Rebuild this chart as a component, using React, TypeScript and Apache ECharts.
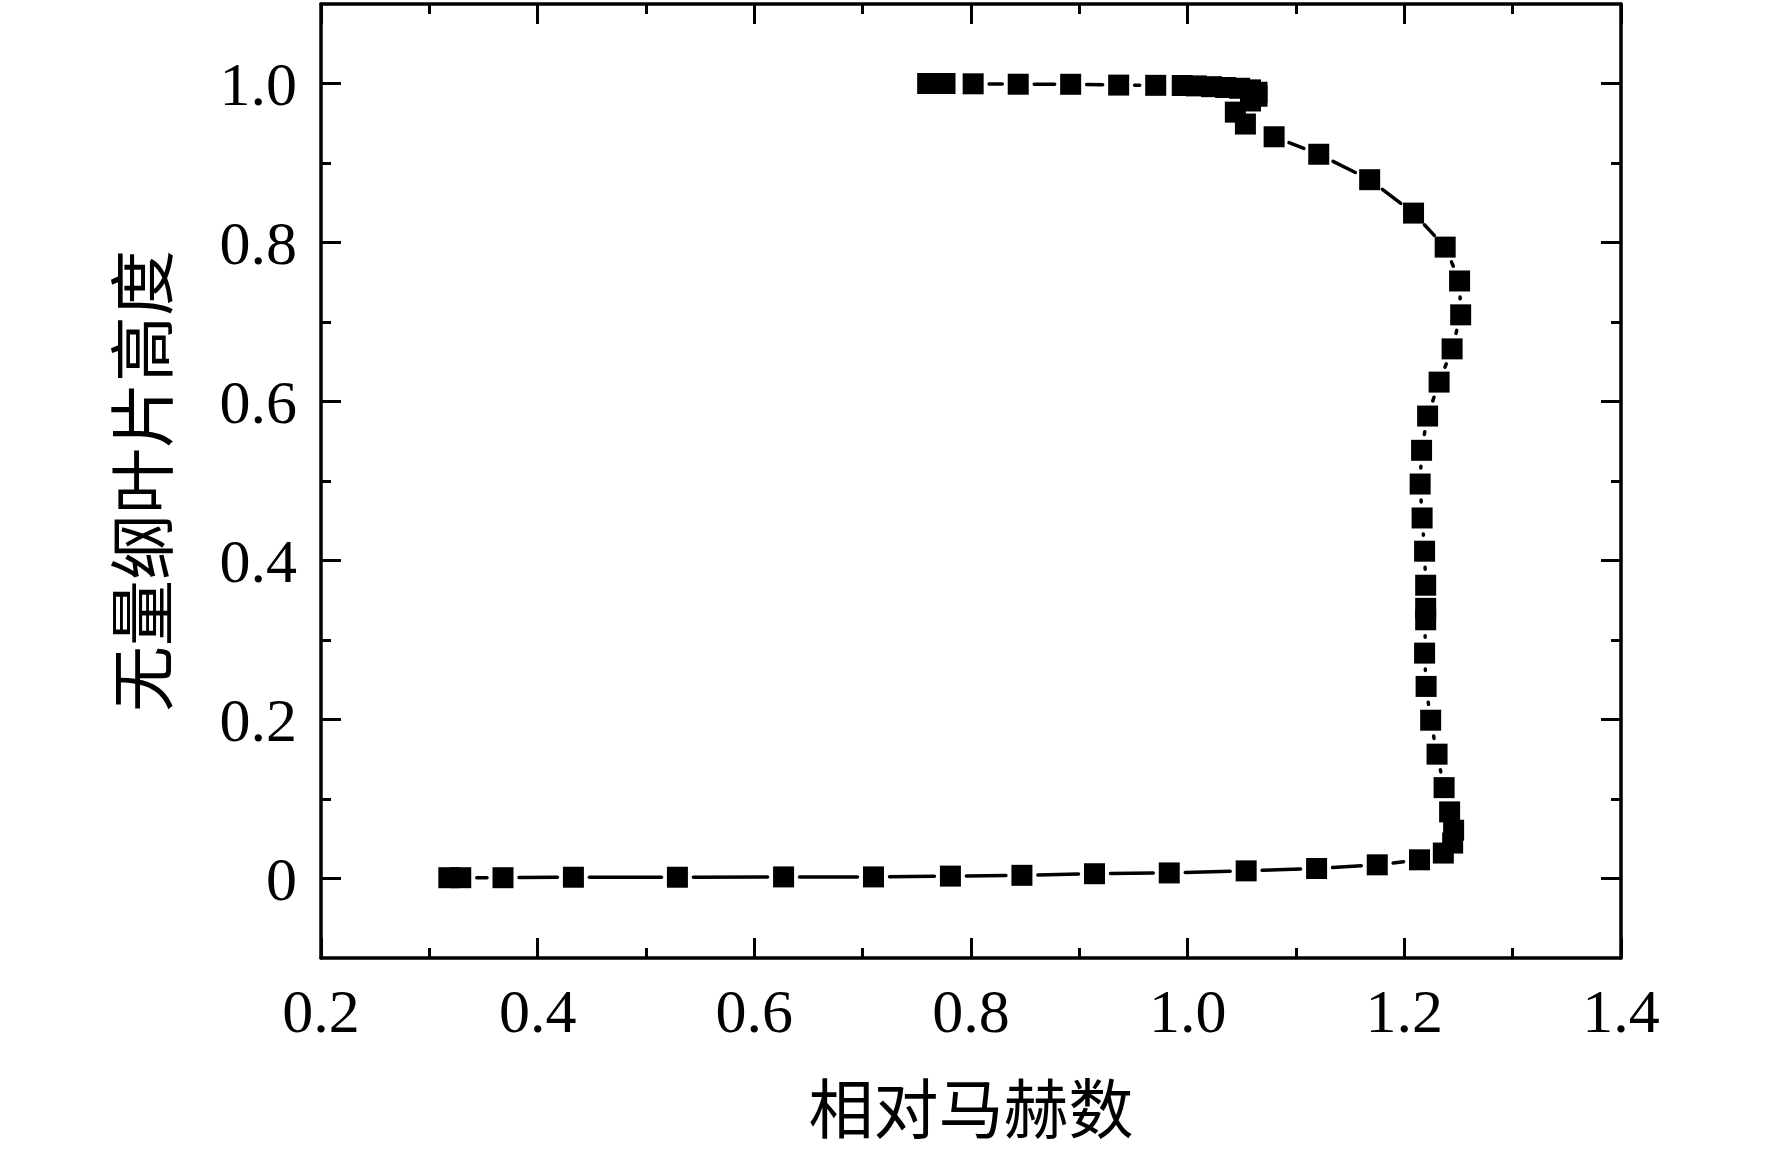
import React, { useEffect, useRef } from "react";
import * as echarts from "echarts";

// Relative Mach number (x) and dimensionless blade height (y), hub to tip
const machX = [
  0.318, 0.329, 0.368, 0.433, 0.529, 0.627, 0.71, 0.781, 0.847, 0.914, 0.983,
  1.054, 1.119, 1.175, 1.214, 1.236, 1.2446, 1.2455, 1.2418, 1.2367, 1.2302,
  1.2243, 1.2201, 1.2187, 1.2197, 1.2197, 1.2197, 1.2187, 1.2164, 1.2146,
  1.2159, 1.2215, 1.2321, 1.2441, 1.252, 1.251, 1.2377, 1.2085, 1.168, 1.121,
  1.0798, 1.0533, 1.044, 1.058, 1.064, 1.064, 1.058, 1.048, 1.035, 1.022,
  1.008, 0.995, 0.9705, 0.9363, 0.892, 0.8436, 0.802, 0.776, 0.76,
];
const heightY = [
  0.001, 0.001, 0.001, 0.0016, 0.0016, 0.002, 0.002, 0.003, 0.004, 0.006,
  0.007, 0.0096, 0.0126, 0.0172, 0.0235, 0.032, 0.0446, 0.0607, 0.0838,
  0.1143, 0.1564, 0.1991, 0.2416, 0.2835, 0.3254, 0.3398, 0.3689, 0.4117,
  0.4535, 0.4962, 0.5386, 0.5817, 0.6244, 0.6662, 0.709, 0.7516, 0.7942,
  0.837, 0.879, 0.911, 0.933, 0.949, 0.964, 0.978, 0.984, 0.989, 0.992,
  0.994, 0.995, 0.996, 0.997, 0.9975, 0.9977, 0.998, 0.999, 0.9991, 0.9996,
  1.0, 1.0,
];
const yMajorTicks = [0, 0.2, 0.4, 0.6, 0.8, 1.0];
const yMinorTicks = [0.1, 0.3, 0.5, 0.7, 0.9];
const xName = "相对马赫数";
const yName = "无量纲叶片高度";

export default function App() {
  const ref = useRef<HTMLDivElement>(null);
  useEffect(() => {
    if (!ref.current) return;
    const chart = echarts.init(ref.current, null, { renderer: "svg" });
    const points = machX.map((x, i) => [x, heightY[i]]);
    const segments = points
      .slice(0, -1)
      .map((p, i) => [p[0], p[1], points[i + 1][0], points[i + 1][1]]);
    const serif = "'Liberation Serif', 'Times New Roman', serif";
    const cjk = "'Noto Sans CJK SC', sans-serif";
    const black = "#000";
    const lineW = 3.5;
    const tickW = 3;
    const xCommon = {
      type: "value",
      min: 0.2,
      max: 1.4,
      interval: 0.2,
      splitLine: { show: false },
      axisLine: { show: true, onZero: false, lineStyle: { color: black, width: lineW } },
      axisTick: { show: true, inside: true, length: 20, lineStyle: { color: black, width: tickW } },
      minorTick: { show: true, splitNumber: 2, length: 10, lineStyle: { color: black, width: tickW } },
    };
    const yCommon = {
      type: "value",
      min: -0.1,
      max: 1.1,
      splitLine: { show: false },
    };
    chart.setOption({
      animation: false,
      backgroundColor: "#fff",
      grid: { left: 321, right: 151, top: 4, bottom: 199, outerBoundsMode: "none", containLabel: false },
      xAxis: [
        {
          ...xCommon,
          position: "bottom",
          axisLabel: {
            show: true,
            color: black,
            fontFamily: serif,
            fontSize: 62,
            margin: 22,
            formatter: (v: number) => v.toFixed(1),
          },
          name: xName,
          nameLocation: "middle",
          nameGap: 114,
          nameTextStyle: { color: black, fontFamily: cjk, fontSize: 65, lineHeight: 65 },
        },
        {
          ...xCommon,
          position: "top",
          axisLabel: { show: false },
        },
      ],
      yAxis: [
        {
          ...yCommon,
          position: "left",
          axisLine: { show: true, onZero: false, lineStyle: { color: black, width: lineW } },
          axisTick: { show: true, inside: true, length: 20, customValues: yMajorTicks, lineStyle: { color: black, width: tickW } },
          axisLabel: {
            show: true,
            color: black,
            fontFamily: serif,
            fontSize: 62,
            margin: 24,
            customValues: yMajorTicks,
            formatter: (v: number) => (Math.abs(v) < 1e-9 ? "0" : v.toFixed(1)),
          },
          name: yName,
          nameLocation: "middle",
          nameGap: 150,
          nameTextStyle: { color: black, fontFamily: cjk, fontSize: 66, lineHeight: 66 },
        },
        {
          ...yCommon,
          position: "left",
          axisLine: { show: false },
          axisTick: { show: true, inside: true, length: 10, customValues: yMinorTicks, lineStyle: { color: black, width: tickW } },
          axisLabel: { show: false },
        },
        {
          ...yCommon,
          position: "right",
          axisLine: { show: true, onZero: false, lineStyle: { color: black, width: lineW } },
          axisTick: { show: true, inside: true, length: 20, customValues: yMajorTicks, lineStyle: { color: black, width: tickW } },
          axisLabel: { show: false },
        },
        {
          ...yCommon,
          position: "right",
          axisLine: { show: false },
          axisTick: { show: true, inside: true, length: 10, customValues: yMinorTicks, lineStyle: { color: black, width: tickW } },
          axisLabel: { show: false },
        },
      ],
      series: [
        {
          type: "custom",
          xAxisIndex: 0,
          yAxisIndex: 0,
          data: segments,
          encode: { x: [0, 2], y: [1, 3] },
          silent: true,
          renderItem: (params: any, api: any) => {
            const p1 = api.coord([api.value(0), api.value(1)]);
            const p2 = api.coord([api.value(2), api.value(3)]);
            const dx = p2[0] - p1[0];
            const dy = p2[1] - p1[1];
            const len = Math.sqrt(dx * dx + dy * dy);
            const gap = 16;
            if (len <= 2 * gap + 1) return null;
            const ux = dx / len;
            const uy = dy / len;
            return {
              type: "line",
              shape: {
                x1: p1[0] + ux * gap,
                y1: p1[1] + uy * gap,
                x2: p2[0] - ux * gap,
                y2: p2[1] - uy * gap,
              },
              style: { stroke: black, lineWidth: lineW, lineCap: "round" },
            };
          },
          z: 2,
        },
        {
          type: "scatter",
          xAxisIndex: 0,
          yAxisIndex: 0,
          data: points,
          symbol: "rect",
          symbolSize: 21,
          itemStyle: { color: black, opacity: 1 },
          silent: true,
          z: 3,
        },
      ],
    });
    return () => chart.dispose();
  }, []);
  return (
    <div
      ref={ref}
      style={{ position: "fixed", left: 0, top: 0, width: 1772, height: 1157, background: "#fff" }}
    />
  );
}
